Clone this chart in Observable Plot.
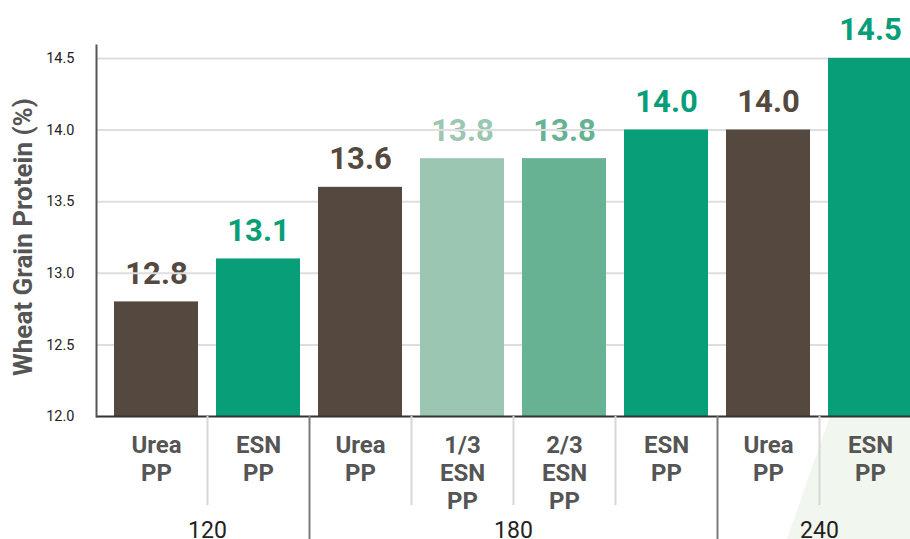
<!DOCTYPE html>
<html>
<head>
<meta charset="utf-8">
<script src="https://cdn.jsdelivr.net/npm/d3@7"></script>
<script src="https://cdn.jsdelivr.net/npm/@observablehq/plot@0.6"></script>
<style>
  html, body { margin: 0; padding: 0; background: #fff; overflow: hidden; width: 910px; height: 539px; }
  #wrap { position: relative; width: 930px; height: 539px; }
  #deco { position: absolute; left: 0; top: 0; width: 930px; height: 539px; background: #f1f6ee;
          clip-path: polygon(830px 416px, 930px 416px, 930px 539px, 787px 539px); }
  #chart { position: absolute; left: 0; top: 0; }
</style>
</head>
<body>
<div id="wrap"><div id="deco"></div><div id="chart"></div></div>
<script>
// ---- data ----
const ids = ["120-Urea", "120-ESN", "180-Urea", "180-1/3ESN", "180-2/3ESN", "180-ESN", "240-Urea", "240-ESN"];
const categoryLabels = ["Urea\nPP", "ESN\nPP", "Urea\nPP", "1/3\nESN\nPP", "2/3\nESN\nPP", "ESN\nPP", "Urea\nPP", "ESN\nPP"];
const values = [12.8, 13.1, 13.6, 13.8, 13.8, 14.0, 14.0, 14.5];
const barColors = ["#54483f", "#079e78", "#54483f", "#9bc7b2", "#66b293", "#079e78", "#54483f", "#079e78"];
const groupLabels = ["120", "180", "240"];
const groupCenterAfter = ["120-Urea", "180-1/3ESN", "240-Urea"];
const lightSeparatorsAfter = ["120-Urea", "180-Urea", "180-1/3ESN", "180-2/3ESN", "240-Urea"];
const groupSeparatorsAfter = ["120-ESN", "180-ESN"];
const yTicks = [12.0, 12.5, 13.0, 13.5, 14.0, 14.5];
const yLabel = "Wheat Grain Protein (%)";

const data = ids.map((id, i) => ({id, label: categoryLabels[i], value: values[i], color: barColors[i]}));
const groups = groupLabels.map((label, i) => ({label, at: groupCenterAfter[i]}));

const font = "Roboto, 'Open Sans', sans-serif";
const halfStep = 51;

const chart = Plot.plot({
  width: 930,
  height: 539,
  marginLeft: 96,
  marginRight: 0,
  marginTop: 45,
  marginBottom: 123,
  style: {fontFamily: font, background: "transparent", maxWidth: "none", overflow: "visible"},
  x: {domain: ids, padding: 18 / 102, axis: null},
  y: {domain: [12, 14.59], axis: null},
  color: {type: "identity"},
  marks: [
    Plot.text(data, {x: "id", y: "value", text: d => d.value.toFixed(1), fill: "color",
      fontSize: 31, fontWeight: 700, lineAnchor: "bottom", dy: -18, fontFamily: font}),
    Plot.gridY(yTicks.slice(1), {stroke: "#dedede", strokeOpacity: 1, strokeWidth: 2}),
    Plot.barY(data, {x: "id", y1: 12, y2: "value", fill: "color"}),
    Plot.ruleY([12], {stroke: "#333", strokeWidth: 2}),
    Plot.frame({anchor: "left", stroke: "#555", strokeWidth: 2}),
    Plot.axisY({ticks: yTicks, tickFormat: d => d.toFixed(1), tickSize: 0, tickPadding: 22,
      fontSize: 14.5, fill: "#222", label: null}),
    Plot.text([yLabel], {frameAnchor: "left", textAnchor: "middle", lineAnchor: "middle",
      rotate: -90, dx: -73, dy: 6, fontSize: 26, fontWeight: 700, fill: "#555", fontFamily: font}),
    Plot.ruleX(lightSeparatorsAfter, {x: d => d, dx: halfStep, insetTop: 371, insetBottom: -89,
      stroke: "#d6d6d6", strokeWidth: 2}),
    Plot.ruleX(groupSeparatorsAfter, {x: d => d, dx: halfStep, insetTop: 371, insetBottom: -125,
      stroke: "#7a7a7a", strokeWidth: 2}),
    Plot.text(data, {x: "id", text: "label", frameAnchor: "bottom", lineAnchor: "top", dy: 17,
      lineHeight: 1.16, fontSize: 24, fontWeight: 700, fill: "#555", fontFamily: font}),
    Plot.text(groups, {x: "at", text: "label", frameAnchor: "bottom", lineAnchor: "bottom",
      dx: halfStep, dy: 121, fontSize: 23, fill: "#222", fontFamily: font})
  ]
});
document.getElementById("chart").appendChild(chart);
</script>
</body>
</html>
